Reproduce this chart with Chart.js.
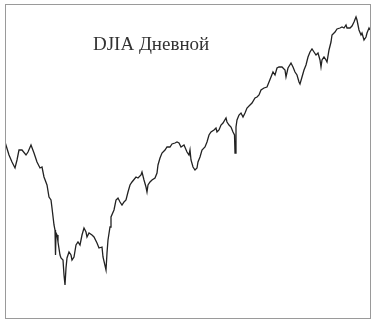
<!DOCTYPE html>
<html>
<head>
<meta charset="utf-8">
<script src="https://cdn.jsdelivr.net/npm/chart.js@4.4.1/dist/chart.umd.min.js"></script>
<style>
  html, body { margin: 0; padding: 0; background: #fff; }
  #wrap { width: 379px; height: 324px; }
</style>
</head>
<body>
<div id="wrap"><canvas id="djia-chart" width="379" height="324"></canvas></div>
<script>
// trading day index and relative index level
const days = [
  0, 4, 7, 10, 12, 14, 17, 21, 23, 26,
  29, 32, 35, 37, 39, 42, 44, 46, 47, 49,
  50, 50.5, 51, 52, 53, 55, 56, 58, 59, 60,
  61, 62, 64, 66, 67, 69, 71, 73, 75, 77,
  79, 81, 82, 84, 87, 89, 92, 94, 97, 98,
  101, 102, 103, 105, 106, 109, 111, 113, 115, 117,
  119, 121, 123, 125, 127, 131, 133, 136, 137, 139,
  141, 142, 143, 145, 147, 150, 152, 153, 155, 157,
  160, 162, 165, 167, 170, 172, 174, 176, 179, 182,
  184, 185, 186, 188, 190, 192, 193, 195, 197, 200,
  202, 204, 206, 209, 211, 212, 214, 216, 218, 221,
  222, 224, 226, 228, 229.5, 230, 231, 232, 234, 236,
  238, 240, 242, 245, 247, 250, 252, 254, 256, 259,
  262, 264, 266, 268, 270, 272, 274, 277, 280, 281,
  283, 286, 288, 290, 292, 294, 295, 297, 299, 301,
  303, 305, 307, 309, 311, 313, 315, 316, 317, 319,
  321, 322, 324, 326, 327, 330, 332, 335, 337, 339,
  341, 342, 345, 347, 349, 351, 352, 354, 356, 357,
  359, 361, 362, 364, 365
];
const closes = [
  178, 165, 158, 152, 160, 170, 170, 165, 168, 175,
  167, 158, 152, 153, 143, 135, 123, 120, 112, 95,
  90, 65, 87, 85, 78, 65, 62, 60, 45, 35,
  52, 62, 68, 65, 60, 63, 75, 78, 75, 85,
  92, 88, 83, 87, 85, 83, 77, 72, 73, 63,
  50, 67, 80, 93, 103, 110, 120, 122, 118, 115,
  118, 120, 128, 135, 138, 143, 142, 145, 148, 140,
  133, 128, 135, 138, 140, 142, 147, 155, 162, 167,
  170, 173, 173, 176, 177, 178, 177, 173, 175, 168,
  165, 170, 160, 153, 150, 152, 158, 163, 170, 173,
  178, 185, 188, 190, 192, 188, 190, 195, 197, 202,
  198, 195, 193, 188, 185, 167, 193, 200, 205, 207,
  203, 207, 212, 215, 217, 222, 223, 225, 230, 232,
  233, 238, 243, 248, 245, 252, 253, 253, 250, 243,
  252, 257, 253, 248, 245, 238, 236, 243, 250, 255,
  263, 268, 271, 268, 265, 267, 260, 253, 260, 263,
  260, 258, 270, 278, 285, 288, 291, 292, 293, 292,
  295, 292, 292, 294, 298, 303, 300, 290, 285, 287,
  280, 283, 287, 292, 290
];
const titleText = 'DJIA Дневной';

// frame round the plot area + title inside it
const framePlugin = {
  id: 'frame',
  afterDraw(chart) {
    const { ctx, chartArea: a } = chart;
    ctx.save();
    ctx.strokeStyle = '#9a9a9a';
    ctx.lineWidth = 1;
    ctx.strokeRect(a.left + 0.5, a.top + 0.5, a.right - a.left, a.bottom - a.top);
    ctx.fillStyle = '#333';
    ctx.font = '19px "Liberation Serif", serif';
    ctx.textBaseline = 'alphabetic';
    ctx.fillText(titleText, 93, 50);
    ctx.restore();
  }
};

const ctx = document.getElementById('djia-chart').getContext('2d');
const chart = new Chart(ctx, {
  type: 'line',
  data: {
    datasets: [{
      data: days.map((d, i) => ({ x: d, y: closes[i] })),
      borderColor: '#222',
      borderWidth: 1.3,
      pointRadius: 0,
      tension: 0,
      fill: false
    }]
  },
  options: {
    responsive: false,
    animation: false,
    layout: { padding: { left: 5, top: 4, right: 9, bottom: 6 } },
    plugins: { legend: { display: false }, tooltip: { enabled: false } },
    scales: {
      x: { type: 'linear', min: 0, max: 365, display: false },
      y: { min: 2, max: 316, display: false }
    }
  },
  plugins: [framePlugin]
});
</script>
</body>
</html>
